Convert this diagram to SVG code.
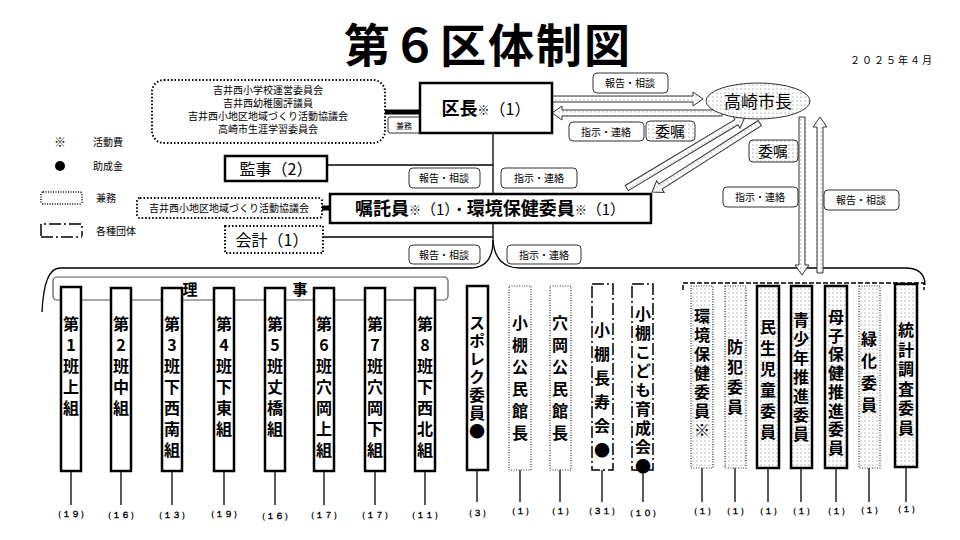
<svg xmlns="http://www.w3.org/2000/svg" width="960" height="540" viewBox="0 0 960 540">
<defs>
<pattern id="dots" width="4" height="4" patternUnits="userSpaceOnUse"><rect width="4" height="4" fill="#fff"/><circle cx="1" cy="1" r="0.6" fill="#666"/></pattern>
</defs>
<style>
text{font-family:"Noto Sans CJK JP","Liberation Sans",sans-serif;fill:#000}
.lbl{fill:#fff;stroke:#333;stroke-width:1}
.lt{font-size:10px;text-anchor:middle}
.box{fill:#fff;stroke:#000;stroke-width:2.5}
.dotb{fill:#fff;stroke:#000;stroke-width:2;stroke-dasharray:1.5 2}
.ln{stroke:#000;stroke-width:1.3;fill:none}
.v{writing-mode:vertical-rl;text-orientation:upright;font-weight:bold;font-size:16px}
.num{font-size:9px;text-anchor:middle;font-family:"Liberation Mono",monospace;font-weight:bold}
.arr{fill:url(#dots);stroke:#333;stroke-width:1}
.col{fill:#fff;stroke:#000;stroke-width:2.5}
.colD{fill:#fff;stroke:#333;stroke-width:1.2;stroke-dasharray:1 1.5}
.colP{fill:url(#dots);stroke:#000;stroke-width:2.5}
.colPD{fill:url(#dots);stroke:#333;stroke-width:1.2;stroke-dasharray:1 1.5}
.colDD{fill:#fff;stroke:#000;stroke-width:1.5;stroke-dasharray:12 3 2 3}
.k{font-size:10px;text-anchor:middle}
</style>
<rect width="960" height="540" fill="#fff"/>
<text x="488" y="62" font-size="46" font-weight="bold" text-anchor="middle" letter-spacing="2">第６区体制図</text>
<text x="892" y="64" font-size="10" text-anchor="middle" letter-spacing="2">２０２５年４月</text>

<g id="legend" font-size="10">
<text x="60" y="147" text-anchor="middle" font-size="12">※</text><text x="93" y="146">活動費</text>
<circle cx="60" cy="166" r="5" fill="#000"/><text x="93" y="170">助成金</text>
<rect x="41" y="192" width="41" height="12" rx="2" fill="none" stroke="#000" stroke-width="1.5" stroke-dasharray="1 1.5"/><text x="96" y="202">兼務</text>
<path d="M41,236 V224 H82 V236" fill="none" stroke="#000" stroke-width="1.5" stroke-dasharray="12 3 2 3"/><path d="M41,237 H82" fill="none" stroke="#000" stroke-width="1.5" stroke-dasharray="12 3 2 3"/><text x="96" y="235">各種団体</text>
</g>

<g id="connectors">
<path class="ln" d="M493,133 V240 Q493,268 470,268 H60 Q44,268 42,312"/>
<path class="ln" d="M493,240 Q495,268 520,268 H905 Q925,268 925,285"/>
<line class="ln" x1="327" y1="165" x2="493" y2="165"/>
<line class="ln" x1="323" y1="237" x2="493" y2="237"/>
<line x1="385" y1="112" x2="420" y2="112" stroke="#000" stroke-width="5"/>
<line x1="322" y1="208" x2="330" y2="208" stroke="#000" stroke-width="5"/>
<path d="M683,290 V283 H924 V290" fill="none" stroke="#000" stroke-width="1.5" stroke-dasharray="5 2"/>
<g class="ln">
<line x1="71" y1="471" x2="71" y2="505"/><line x1="121" y1="471" x2="121" y2="505"/><line x1="172" y1="471" x2="172" y2="505"/><line x1="224" y1="471" x2="224" y2="505"/><line x1="275" y1="471" x2="275" y2="505"/><line x1="324" y1="471" x2="324" y2="505"/><line x1="375" y1="471" x2="375" y2="505"/><line x1="425" y1="471" x2="425" y2="505"/>
<line x1="477" y1="470" x2="477" y2="502"/><line x1="520" y1="470" x2="520" y2="502"/><line x1="560" y1="470" x2="560" y2="502"/><line x1="602" y1="470" x2="602" y2="502"/><line x1="643" y1="470" x2="643" y2="502"/>
<line x1="702" y1="468" x2="702" y2="502"/><line x1="735" y1="468" x2="735" y2="502"/><line x1="768" y1="468" x2="768" y2="502"/><line x1="801" y1="468" x2="801" y2="502"/><line x1="836" y1="468" x2="836" y2="502"/><line x1="869" y1="468" x2="869" y2="502"/><line x1="906" y1="467" x2="906" y2="502"/>
</g>
<g class="arr">
<polygon transform="translate(703,99)" points="0,0 -10,-7 -10,-3 -151,-3 -151,3 -10,3 -10,7"/>
<polygon transform="translate(552,113) rotate(180)" points="0,0 -10,-7 -10,-3 -170,-3 -170,3 -10,3 -10,7"/>
<polygon transform="translate(745,117) rotate(-31)" points="0,0 -10,-7 -10,-3 -138,-3 -138,3 -10,3 -10,7"/>
<polygon transform="translate(652,192) rotate(147.4)" points="0,0 -10,-7 -10,-3 -128,-3 -128,3 -10,3 -10,7"/>
<polygon transform="translate(802,275) rotate(90)" points="0,0 -10,-7 -10,-3 -158,-3 -158,3 -10,3 -10,7"/>
<polygon transform="translate(820,117) rotate(-90)" points="0,0 -10,-7 -10,-3 -156,-3 -156,3 -10,3 -10,7"/>
</g>
</g>

<g id="labels">
<rect class="lbl" x="593" y="73" width="75" height="20" rx="4"/><text class="lt" x="630" y="87">報告・相談</text>
<rect class="lbl" x="569" y="122" width="75" height="19" rx="4"/><text class="lt" x="606" y="136">指示・連絡</text>
<rect class="lbl" x="646" y="121" width="49" height="20" rx="4" style="fill:url(#dots)"/><text x="670" y="137" font-size="15" text-anchor="middle">委嘱</text>
<rect class="lbl" x="749" y="140" width="49" height="22" rx="4" style="fill:url(#dots)"/><text x="773" y="157" font-size="15" text-anchor="middle">委嘱</text>
<rect class="lbl" x="723" y="187" width="75" height="20" rx="4"/><text class="lt" x="760" y="201">指示・連絡</text>
<rect class="lbl" x="824" y="190" width="75" height="20" rx="4"/><text class="lt" x="861" y="204">報告・相談</text>
<rect class="lbl" x="409" y="168" width="71" height="20" rx="4"/><text class="lt" x="444" y="182">報告・相談</text>
<rect class="lbl" x="501" y="168" width="76" height="20" rx="4"/><text class="lt" x="539" y="182">指示・連絡</text>
<rect class="lbl" x="409" y="245" width="71" height="19" rx="4"/><text class="lt" x="444" y="259">報告・相談</text>
<rect class="lbl" x="507" y="245" width="74" height="19" rx="4"/><text class="lt" x="544" y="259">指示・連絡</text>
<rect class="lbl" x="388" y="117" width="32" height="16" rx="2"/><text x="404" y="129" font-size="8" text-anchor="middle">兼務</text>
</g>

<g id="n-kenmu1"><rect class="dotb" x="152" y="80" width="233" height="63" rx="12"/>
<text class="k" x="268" y="94">吉井西小学校運営委員会</text>
<text class="k" x="268" y="107">吉井西幼稚園評議員</text>
<text class="k" x="268" y="120">吉井西小地区地域づくり活動協議会</text>
<text class="k" x="268" y="133">高崎市生涯学習委員会</text></g>
<g id="n-kucho"><rect class="box" x="420" y="83" width="132" height="50"/><text x="486" y="115" font-size="16" text-anchor="middle"><tspan font-weight="bold" font-size="18">区長</tspan><tspan font-size="12">※</tspan>（1）</text></g>
<g id="n-shicho"><ellipse cx="758" cy="101" rx="52" ry="18" fill="url(#dots)" stroke="#333" stroke-width="1"/><text x="758" y="108" font-size="17" text-anchor="middle">高崎市長</text></g>
<g id="n-kanji"><rect class="box" x="225" y="156" width="102" height="25"/><text x="276" y="175" font-size="16" text-anchor="middle">監事（2）</text></g>
<g id="n-kenmu2"><rect class="dotb" x="137" y="198" width="185" height="20" rx="3"/><text x="229" y="212" font-size="10" text-anchor="middle">吉井西小地区地域づくり活動協議会</text></g>
<g id="n-shokutaku"><rect class="box" x="330" y="194" width="321" height="29"/><text x="490" y="215" font-size="15" text-anchor="middle"><tspan font-weight="bold" font-size="18">嘱託員</tspan><tspan font-size="12">※</tspan>（1）・<tspan font-weight="bold" font-size="18">環境保健委員</tspan><tspan font-size="12">※</tspan>（1）</text></g>
<g id="n-kaikei"><rect class="dotb" x="225" y="226" width="98" height="27"/><text x="272" y="246" font-size="16" text-anchor="middle">会計（1）</text></g>
<g id="n-riji"><rect x="53" y="277" width="395" height="23" rx="4" fill="none" stroke="#555" stroke-width="1.2"/><rect x="178" y="278" width="24" height="21" fill="#fff"/><rect x="288" y="278" width="24" height="21" fill="#fff"/><text x="190" y="295" font-size="15" font-weight="bold" text-anchor="middle">理</text><text x="300" y="295" font-size="15" font-weight="bold" text-anchor="middle">事</text></g>

<g id="c1"><rect class="col" x="61" y="287" width="20" height="184"/><text class="v" x="71" y="316" letter-spacing="5">第1班上組</text><text class="num" x="71" y="517">（１９）</text></g>
<g id="c2"><rect class="col" x="111" y="288" width="20" height="183"/><text class="v" x="121" y="316" letter-spacing="5">第2班中組</text><text class="num" x="121" y="518">（１６）</text></g>
<g id="c3"><rect class="col" x="162" y="288" width="20" height="183"/><text class="v" x="172" y="316" letter-spacing="5">第3班下西南組</text><text class="num" x="172" y="518">（１３）</text></g>
<g id="c4"><rect class="col" x="214" y="288" width="20" height="183"/><text class="v" x="224" y="316" letter-spacing="5">第4班下東組</text><text class="num" x="224" y="517">（１９）</text></g>
<g id="c5"><rect class="col" x="265" y="288" width="20" height="183"/><text class="v" x="275" y="316" letter-spacing="5">第5班丈橋組</text><text class="num" x="275" y="519">（１６）</text></g>
<g id="c6"><rect class="col" x="314" y="288" width="20" height="183"/><text class="v" x="324" y="316" letter-spacing="5">第6班穴岡上組</text><text class="num" x="324" y="518">（１７）</text></g>
<g id="c7"><rect class="col" x="365" y="288" width="20" height="183"/><text class="v" x="375" y="316" letter-spacing="5">第7班穴岡下組</text><text class="num" x="375" y="518">（１７）</text></g>
<g id="c8"><rect class="col" x="415" y="288" width="20" height="183"/><text class="v" x="425" y="316" letter-spacing="5">第8班下西北組</text><text class="num" x="425" y="518">（１１）</text></g>
<g id="c9"><rect class="col" x="467" y="286" width="21" height="184"/><text class="v" x="477" y="315" letter-spacing="2">スポレク委員●</text><text class="num" x="477" y="516">（３）</text></g>
<g id="c10"><rect class="colD" x="509" y="286" width="22" height="184"/><text class="v" x="520" y="315" letter-spacing="6">小棚公民館長</text><text class="num" x="520" y="514">（１）</text></g>
<g id="c11"><rect class="colD" x="550" y="286" width="21" height="184"/><text class="v" x="560" y="315" letter-spacing="6">穴岡公民館長</text><text class="num" x="560" y="514">（１）</text></g>
<g id="c12"><rect class="colDD" x="592" y="284" width="21" height="186"/><text class="v" x="602" y="322" letter-spacing="8">小棚長寿会●</text><text class="num" x="602" y="514">（３１）</text></g>
<g id="c13"><rect class="colDD" x="632" y="284" width="21" height="186"/><text class="v" x="643" y="306" font-size="13" letter-spacing="3">小棚こども育成会●</text><text class="num" x="643" y="516">（１０）</text></g>
<g id="c14"><rect class="colPD" x="691" y="286" width="22" height="182"/><text class="v" x="702" y="308" letter-spacing="3">環境保健委員※</text><text class="num" x="702" y="514">（１）</text></g>
<g id="c15"><rect class="colPD" x="725" y="286" width="21" height="182"/><text class="v" x="735" y="339" letter-spacing="4">防犯委員</text><text class="num" x="735" y="514">（１）</text></g>
<g id="c16"><rect class="colP" x="757" y="286" width="22" height="182"/><text class="v" x="768" y="319" letter-spacing="5">民生児童委員</text><text class="num" x="768" y="514">（１）</text></g>
<g id="c17"><rect class="colP" x="791" y="286" width="21" height="182"/><text class="v" x="801" y="312" letter-spacing="3">青少年推進委員</text><text class="num" x="801" y="514">（１）</text></g>
<g id="c18"><rect class="colP" x="825" y="286" width="22" height="182"/><text class="v" x="836" y="309" font-size="15" letter-spacing="2.7">母子保健推進委員</text><text class="num" x="836" y="514">（１）</text></g>
<g id="c19"><rect class="colPD" x="859" y="286" width="21" height="182"/><text class="v" x="869" y="331" font-size="17" letter-spacing="6">緑化委員</text><text class="num" x="869" y="513">（１）</text></g>
<g id="c20"><rect class="colP" x="895" y="284" width="22" height="183"/><text class="v" x="906" y="322" letter-spacing="3.6">統計調査委員</text><text class="num" x="906" y="512">（１）</text></g>
</svg>
